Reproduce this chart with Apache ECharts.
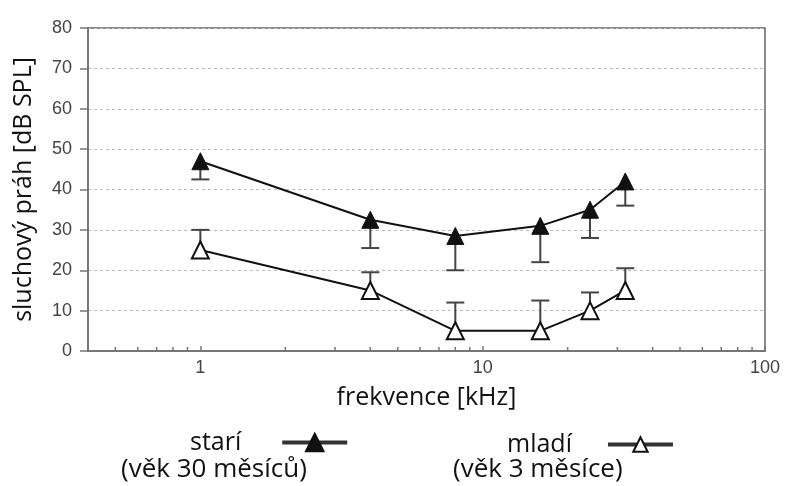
<!DOCTYPE html>
<html>
<head>
<meta charset="utf-8">
<script src="https://cdn.jsdelivr.net/npm/echarts@6/dist/echarts.min.js"></script>
<style>
  html, body { margin: 0; padding: 0; background: #fff; }
  #chart { width: 785px; height: 486px; }
</style>
</head>
<body>
<div id="chart"></div>
<script>
// frequencies in kHz
const freqs = [1, 4, 8, 16, 24, 32];
// old animals (30 months): mean and lower end of error bar
const oldMean = [47, 32.5, 28.5, 31, 35, 42];
const oldLow = [42.5, 25.5, 20, 22, 28, 36];
// young animals (3 months): mean and upper end of error bar
const youngMean = [25, 15, 5, 5, 10, 15];
const youngHigh = [30, 19.5, 12, 12.5, 14.5, 20.5];
// axis ticks
const xLabels = [1, 10, 100];
const minorTicks = [0.5, 0.6, 0.7, 0.8, 0.9, 2, 3, 4, 5, 6, 7, 8, 9, 20, 30, 40, 50, 60, 70, 80, 90];

const chart = echarts.init(document.getElementById("chart"));

const titleFont = "'Open Sans', Lato, sans-serif";
const tickFont = "'Liberation Sans', Arial, sans-serif";

function errorBar(params, api) {
  const x = api.value(0);
  const p0 = api.coord([x, api.value(1)]);
  const p1 = api.coord([x, api.value(2)]);
  const half = 9;
  const style = { stroke: "#444", lineWidth: 2 };
  return {
    type: "group",
    children: [
      { type: "line", shape: { x1: p0[0], y1: p0[1], x2: p1[0], y2: p1[1] }, style },
      { type: "line", shape: { x1: p1[0] - half, y1: p1[1], x2: p1[0] + half, y2: p1[1] }, style },
    ],
  };
}

function minorTick(params, api) {
  const p = api.coord([api.value(0), 0]);
  return {
    type: "line",
    shape: { x1: p[0], y1: p[1], x2: p[0], y2: p[1] - 4 },
    style: { stroke: "#777", lineWidth: 1.5 },
  };
}

chart.setOption({
  animation: false,
  grid: {
    left: 88,
    right: 20,
    top: 28,
    bottom: 135,
    show: true,
    borderColor: "#666",
    borderWidth: 1.5,
  },
  xAxis: {
    type: "log",
    logBase: 10,
    min: 0.4,
    max: 100,
    name: "frekvence [kHz]",
    nameLocation: "middle",
    nameGap: 34,
    nameTextStyle: { fontFamily: titleFont, fontSize: 25, color: "#111" },
    axisLine: { lineStyle: { color: "#777", width: 2 } },
    axisTick: { inside: true, length: 5, lineStyle: { color: "#777", width: 1.5 } },
    axisLabel: {
      margin: 8,
      fontFamily: tickFont,
      fontSize: 18,
      color: "#444",
      formatter(v) {
        const l = xLabels.find((t) => Math.abs(t - v) < 1e-6 * t);
        return l ? String(l) : "";
      },
    },
    splitLine: { show: false },
  },
  yAxis: {
    type: "value",
    min: 0,
    max: 80,
    interval: 10,
    name: "sluchový práh [dB SPL]",
    nameLocation: "middle",
    nameGap: 52,
    nameTextStyle: { fontFamily: titleFont, fontSize: 25, color: "#111" },
    axisLine: { show: true, lineStyle: { color: "#777", width: 2 } },
    axisTick: { show: true, length: 8, lineStyle: { color: "#777", width: 1.5 } },
    axisLabel: { margin: 16, fontFamily: tickFont, fontSize: 18, color: "#444" },
    splitLine: { lineStyle: { color: "#bbb", type: [3, 3], width: 1 } },
  },
  legend: [
    {
      data: ["starí"],
      left: 185,
      top: 425,
      align: "right",
      itemWidth: 65,
      itemHeight: 22,
      selectedMode: false,
      lineStyle: { width: 4, color: "#333" },
      textStyle: { fontFamily: titleFont, fontSize: 25, color: "#111", padding: [0, 36, 0, 0] },
    },
    {
      data: ["mladí"],
      left: 502,
      top: 427,
      align: "right",
      itemWidth: 65,
      itemHeight: 18,
      selectedMode: false,
      lineStyle: { width: 4, color: "#333" },
      textStyle: { fontFamily: titleFont, fontSize: 25, color: "#111", padding: [0, 31, 0, 0] },
    },
  ],
  graphic: [
    {
      type: "text",
      left: 121,
      top: 457,
      style: { text: "(věk 30 měsíců)", font: "26px " + titleFont, fill: "#111" },
    },
    {
      type: "text",
      left: 453,
      top: 457,
      style: { text: "(věk 3 měsíce)", font: "26px " + titleFont, fill: "#111" },
    },
  ],
  series: [
    {
      type: "custom",
      name: "minor",
      silent: true,
      renderItem: minorTick,
      data: minorTicks.map((v) => [v, 0]),
      z: 1,
    },
    {
      type: "custom",
      name: "oldErr",
      silent: true,
      renderItem: errorBar,
      data: freqs.map((f, i) => [f, oldMean[i], oldLow[i]]),
      z: 2,
    },
    {
      type: "custom",
      name: "youngErr",
      silent: true,
      renderItem: errorBar,
      data: freqs.map((f, i) => [f, youngMean[i], youngHigh[i]]),
      z: 2,
    },
    {
      type: "line",
      name: "starí",
      data: freqs.map((f, i) => [f, oldMean[i]]),
      symbol: "triangle",
      symbolSize: 17,
      lineStyle: { color: "#111", width: 2 },
      itemStyle: { color: "#111", borderColor: "#111", borderWidth: 1 },
      z: 3,
    },
    {
      type: "line",
      name: "mladí",
      data: freqs.map((f, i) => [f, youngMean[i]]),
      symbol: "triangle",
      symbolSize: 17,
      showAllSymbol: true,
      lineStyle: { color: "#111", width: 2 },
      itemStyle: { color: "#fff", borderColor: "#111", borderWidth: 2 },
      z: 3,
    },
  ],
});
</script>
</body>
</html>
